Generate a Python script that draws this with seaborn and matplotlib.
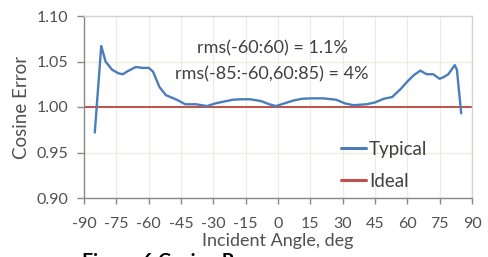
import matplotlib
matplotlib.use("Agg")
import matplotlib.pyplot as plt
from matplotlib.lines import Line2D
import seaborn as sns
import pandas as pd

angles_typical = [-85, -82, -80, -77, -74, -72, -70, -66, -63, -60, -58, -55, -52, -47, -43,
                  -38, -33, -29, -25, -21, -17, -13, -8, -4, -1, 3, 7, 11, 15, 21, 27, 31, 35,
                  41, 45, 49, 53, 57, 60, 63, 66, 69, 72, 75, 77, 79, 82, 83, 85]
values_typical = [0.972, 1.067, 1.050, 1.041, 1.037, 1.036, 1.039, 1.044, 1.043, 1.043, 1.039,
                  1.022, 1.013, 1.008, 1.003, 1.003, 1.001, 1.004, 1.006, 1.008, 1.0085, 1.0085,
                  1.0066, 1.003, 1.001, 1.004, 1.007, 1.009, 1.0095, 1.0095, 1.008, 1.004, 1.002,
                  1.003, 1.005, 1.009, 1.011, 1.020, 1.028, 1.035, 1.040, 1.036, 1.036, 1.031,
                  1.033, 1.036, 1.046, 1.041, 0.993]
angles_ideal = [-90, 90]
values_ideal = [1.0, 1.0]
series_names = ["Typical", "Ideal"]
x_ticks = list(range(-90, 91, 15))
y_ticks = [0.90, 0.95, 1.00, 1.05, 1.10]
annotation_lines = ["rms(-60:60) = 1.1%", "rms(-85:-60,60:85) = 4%"]

df = pd.concat([
    pd.DataFrame({"angle": angles_typical, "value": values_typical, "series": series_names[0]}),
    pd.DataFrame({"angle": angles_ideal, "value": values_ideal, "series": series_names[1]}),
], ignore_index=True)

sns.set_style("white")
plt.rcParams["font.family"] = ["Lato", "DejaVu Sans"]
text_color = "#505050"

fig = plt.figure(figsize=(4.89, 2.57), dpi=100)
ax = fig.add_axes([84 / 489, 1 - 198 / 257, (472 - 84) / 489, (198 - 16) / 257])

palette = {"Typical": "#4a7ebb", "Ideal": "#c0504d"}
sns.lineplot(data=df, x="angle", y="value", hue="series", palette=palette, ax=ax,
             sort=False, estimator=None, legend=False)
ax.lines[0].set_linewidth(1.7)
ax.lines[0].set_zorder(3)
ax.lines[1].set_linewidth(1.4)
ax.lines[1].set_zorder(2)

ax.set_xlim(-90, 90)
ax.set_ylim(0.90, 1.10)
ax.set_xticks(x_ticks)
ax.set_yticks(y_ticks)
ax.set_xticklabels([str(t) for t in x_ticks])
ax.set_yticklabels([f"{t:.2f}" for t in y_ticks])
ax.grid(True, color="#eeecdc", linewidth=0.9)
ax.set_axisbelow(True)

for s in ["top", "right"]:
    ax.spines[s].set_color("#d4d4d4")
    ax.spines[s].set_linewidth(1.0)
for s in ["left", "bottom"]:
    ax.spines[s].set_color("#888888")
    ax.spines[s].set_linewidth(1.0)

ax.tick_params(axis="x", which="major", direction="out", length=4, width=1,
               color="#888888", labelcolor=text_color, labelsize=11.5, pad=10, bottom=True)
ax.tick_params(axis="y", which="major", direction="out", length=5, width=1,
               color="#888888", labelcolor=text_color, labelsize=11.5, pad=6, left=True)
ax.set_xlabel("Incident Angle, deg", color=text_color, fontsize=13, labelpad=1)
ax.set_ylabel("Cosine Error", color=text_color, fontsize=13.5, labelpad=5)

ax.text(0.485, 0.82, annotation_lines[0], transform=ax.transAxes, ha="center", va="center",
        color="#404040", fontsize=13)
ax.text(0.485, 0.68, annotation_lines[1], transform=ax.transAxes, ha="center", va="center",
        color="#404040", fontsize=13)

handles = [Line2D([], [], color=palette[n], linewidth=2.2) for n in series_names]
leg = ax.legend(handles, series_names, loc="upper left",
                bbox_to_anchor=(341 / 489, 1 - 141 / 257), bbox_transform=fig.transFigure,
                frameon=False, fontsize=13.5, handlelength=1.35, handletextpad=0.15,
                labelspacing=0.8, borderpad=0, borderaxespad=0)
for t in leg.get_texts():
    t.set_color("#404040")

fig.text(82 / 489, 1 - 253 / 257, "Figure 6 Cosine Response", ha="left", va="top",
         fontsize=14, fontweight="bold", color="black")

fig.savefig("out.png", dpi=100)
